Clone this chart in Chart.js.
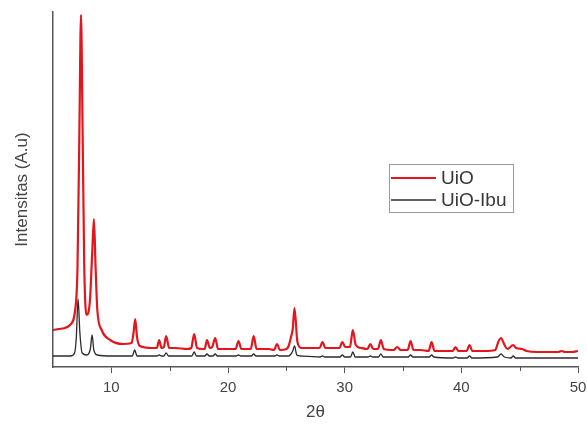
<!DOCTYPE html>
<html>
<head>
<meta charset="utf-8">
<script src="https://cdn.jsdelivr.net/npm/chart.js@4"></script>
<style>
  html, body { margin: 0; padding: 0; background: #fff; }
  #wrap { width: 587px; height: 424px; }
</style>
</head>
<body>
<div id="wrap"><canvas id="chart" width="587" height="424"></canvas></div>
<script>
// Difratograma UiO vs UiO-Ibu (unidades arbitrárias)
const redTheta = [
  5, 5.5, 6, 6.46, 6.9, 7.1, 7.26, 7.4, 7.54, 7.68,
  7.88, 8.17, 8.37, 8.51, 8.65, 8.8, 9.17, 9.9, 11.0, 11.74,
  11.9, 12.05, 12.2, 12.45, 13.5, 13.9, 14.1, 14.3, 14.5, 14.7,
  14.95, 15.5, 16.5, 16.85, 17.1, 17.35, 17.8, 18.0, 18.2, 18.45,
  18.65, 18.9, 19.15, 20.0, 20.65, 20.9, 21.15, 21.7, 21.95, 22.2,
  22.45, 23.5, 23.95, 24.2, 24.45, 25.0, 25.2, 25.4, 25.55, 25.7,
  25.95, 26.3, 27.0, 27.85, 28.1, 28.35, 29.0, 29.55, 29.8, 30.05,
  30.45, 30.7, 30.95, 31.4, 31.95, 32.2, 32.45, 32.85, 33.1, 33.35,
  34.2, 34.5, 34.8, 35.4, 35.65, 35.9, 36.5, 37.2, 37.45, 37.7,
  38.5, 39.25, 39.5, 39.75, 40.45, 40.7, 40.95, 42.0, 42.9, 43.2,
  43.4, 43.7, 43.95, 44.45, 44.7, 45.2, 45.6, 46.5, 47.5, 48.3,
  48.6, 48.9, 49.5, 50
];
const redInt = [
  37, 38, 39, 42, 57, 100, 234, 352, 234, 100,
  52, 67, 117, 148, 100, 57, 37, 27, 23, 24,
  34, 48, 30, 21, 19, 19, 27, 19, 20, 31,
  19, 19, 18, 19, 33, 19, 18, 18, 27, 19,
  20, 29, 18, 18, 18, 26, 18, 18, 18, 31,
  18, 18, 17, 23, 17, 18, 21, 30, 38, 59,
  25, 19, 19, 19, 25, 19, 19, 19, 25, 20,
  20, 37, 22, 19, 18, 23, 18, 18, 27, 18,
  17, 20, 17, 17, 26, 17, 17, 16, 25, 16,
  16, 16, 20, 16, 16, 22, 16, 16, 17, 26,
  29, 22, 18, 22, 19, 18, 16, 15, 15, 15,
  16, 15, 15, 16
];
const blackTheta = [
  5, 6.5, 6.85, 7.0, 7.15, 7.3, 7.5, 7.9, 8.2, 8.35,
  8.5, 8.8, 10.0, 11.8, 12.0, 12.2, 13.9, 14.1, 14.3, 14.5,
  14.7, 14.9, 16.9, 17.1, 17.3, 18.0, 18.2, 18.4, 18.7, 18.9,
  19.1, 20.7, 20.9, 21.1, 22.0, 22.2, 22.4, 24.0, 24.2, 24.4,
  25.2, 25.4, 25.55, 25.7, 25.9, 26.2, 27.9, 28.1, 28.3, 29.6,
  29.8, 30.0, 30.5, 30.7, 30.9, 32.0, 32.2, 32.4, 32.9, 33.1,
  33.3, 35.45, 35.65, 35.85, 37.25, 37.45, 37.65, 39.3, 39.5, 39.7,
  40.5, 40.7, 40.9, 43.1, 43.4, 43.7, 44.25, 44.45, 44.65, 50
];
const blackInt = [
  11, 11, 14, 30, 68, 35, 14, 12, 18, 32,
  17, 12, 11, 11, 17, 11, 11, 12, 11, 11,
  14, 11, 11, 15, 11, 11, 13, 11, 11, 13,
  11, 11, 12, 11, 11, 13, 11, 11, 12, 11,
  11, 13, 16, 21, 12, 11, 10, 11, 10, 10,
  12, 10, 10, 15, 10, 10, 11, 10, 10, 13,
  10, 10, 12, 10, 10, 12, 10, 9, 10, 9,
  9, 11, 9, 10, 13, 10, 9, 11, 9, 9
];
const seriesNames = ['UiO', 'UiO-Ibu'];
const majorTicks = [10, 20, 30, 40, 50];
const minorTicks = [15, 25, 35, 45];

const FONT = "'Liberation Sans', Arial, sans-serif";
const toXY = (xs, ys) => xs.map((x, i) => ({ x: x, y: ys[i] }));

// legenda com moldura, desenhada dentro do gráfico
const boxLegend = {
  id: 'boxLegend',
  afterDraw(chart) {
    const c = chart.ctx;
    c.save();
    c.strokeStyle = '#9a9a9a';
    c.lineWidth = 1;
    c.strokeRect(389.5, 164.5, 124, 48);
    c.font = '19px ' + FONT;
    c.textBaseline = 'middle';
    c.fillStyle = '#383838';
    chart.data.datasets.forEach((ds, i) => {
      const y = 178 + i * 22;
      c.strokeStyle = ds.borderColor;
      c.lineWidth = ds.borderWidth;
      c.beginPath();
      c.moveTo(391, y);
      c.lineTo(436, y);
      c.stroke();
      c.fillText(ds.label, 441, y + 1);
    });
    c.restore();
  }
};

// ticks menores (15, 25, 35, 45)
const minorTickMarks = {
  id: 'minorTickMarks',
  afterDraw(chart) {
    const sx = chart.scales.x;
    const c = chart.ctx;
    c.save();
    c.strokeStyle = '#555';
    c.lineWidth = 1;
    minorTicks.forEach(v => {
      const px = Math.round(sx.getPixelForValue(v)) + 0.5;
      c.beginPath();
      c.moveTo(px, sx.top);
      c.lineTo(px, sx.top + 4);
      c.stroke();
    });
    c.restore();
  }
};

const ctx = document.getElementById('chart').getContext('2d');
const chart = new Chart(ctx, {
  type: 'line',
  data: {
    datasets: [{
      label: seriesNames[0],
      data: toXY(redTheta, redInt),
      borderColor: '#e3161d',
      borderWidth: 2.2,
      pointRadius: 0,
      cubicInterpolationMode: 'monotone'
    }, {
      label: seriesNames[1],
      data: toXY(blackTheta, blackInt),
      borderColor: '#2b2b2b',
      borderWidth: 1.3,
      pointRadius: 0,
      cubicInterpolationMode: 'monotone'
    }]
  },
  options: {
    responsive: false,
    animation: false,
    layout: { padding: { left: 8, top: 12, right: 9, bottom: 0 } },
    plugins: {
      legend: { display: false },
      tooltip: { enabled: false }
    },
    scales: {
      x: {
        type: 'linear',
        min: 5,
        max: 50,
        afterBuildTicks: s => { s.ticks = majorTicks.map(v => ({ value: v })); },
        afterFit: s => { s.height = 57; s.paddingRight = 0; s.paddingLeft = 0; },
        grid: { drawOnChartArea: false, tickLength: 6, color: '#555', tickWidth: 1 },
        border: { color: '#555', width: 1.5 },
        ticks: { color: '#444', font: { family: FONT, size: 15 }, padding: 6, maxRotation: 0 },
        title: { display: true, text: '2θ', color: '#444', font: { family: FONT, size: 17 }, padding: { top: 0, bottom: 1 } }
      },
      y: {
        min: 0,
        max: 355,
        afterFit: s => { s.width = 45; },
        grid: { display: false },
        border: { color: '#555', width: 1.5 },
        ticks: { display: false },
        title: { display: true, text: 'Intensitas (A.u)', color: '#444', font: { family: FONT, size: 17 }, padding: { top: 4, bottom: 0 } }
      }
    }
  },
  plugins: [boxLegend, minorTickMarks]
});
</script>
</body>
</html>
